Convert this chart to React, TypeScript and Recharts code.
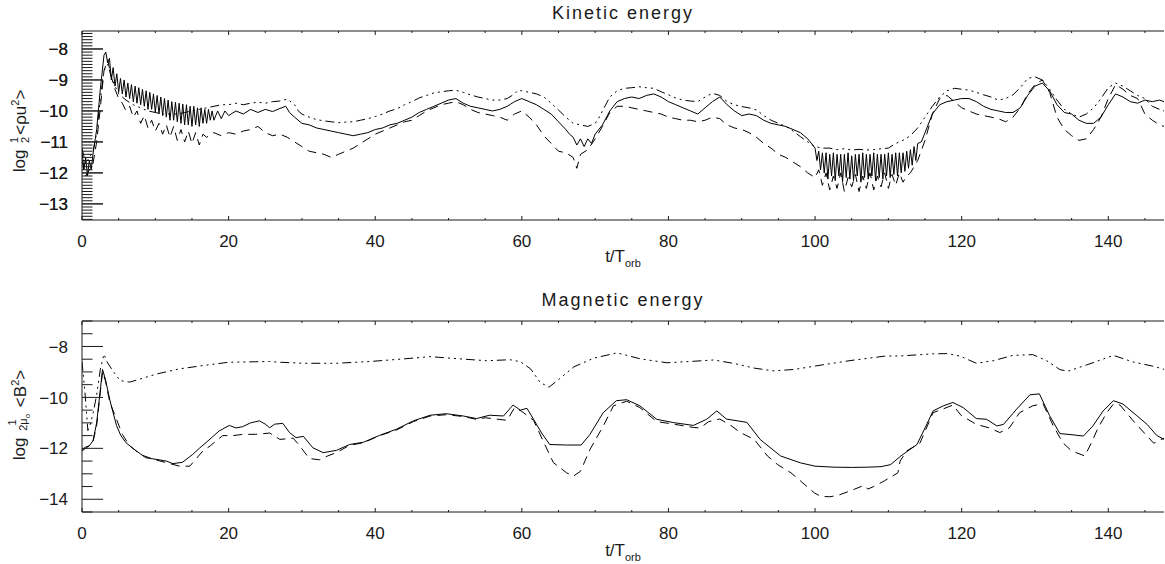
import React from "react";
import { Line, LineChart, XAxis, YAxis } from "recharts";

/* ---- data: [t/T_orb, log energy] ---- */

// kinetic energy, solid
const keSolid: [number, number][] = [
  [0, -11.3], [0.25, -11.9], [0.5, -11.5], [0.75, -12.1], [1, -11.6], [1.25, -11.9], [1.5, -11.4],
  [2, -10.6], [2.5, -9.3], [3, -8.2], [3.25, -8.1], [3.5, -8.45], [3.75, -8.3], [4, -9.0],
  [4.25, -8.6], [4.5, -9.2], [4.75, -8.8], [5, -9.4], [5.25, -8.95], [5.5, -9.45], [5.75, -9.0],
  [6, -9.55], [6.25, -9.1], [6.5, -9.6], [6.75, -9.15], [7, -9.7], [7.25, -9.2], [7.5, -9.75],
  [7.75, -9.25], [8, -9.8], [8.25, -9.3], [8.5, -9.85], [8.75, -9.35], [9, -9.95], [9.25, -9.4],
  [9.5, -9.95], [9.75, -9.45], [10, -10.05], [10.25, -9.5], [10.5, -10.1], [10.75, -9.55],
  [11, -10.15], [11.25, -9.6], [11.5, -10.2], [11.75, -9.65], [12, -10.3], [12.25, -9.7],
  [12.5, -10.3], [12.75, -9.72], [13, -10.35], [13.25, -9.75], [13.5, -10.4], [13.75, -9.78],
  [14, -10.45], [14.25, -9.8], [14.5, -10.45], [14.75, -9.85], [15, -10.5], [15.25, -9.85],
  [15.5, -10.45], [15.75, -9.9], [16, -10.5], [16.25, -9.9], [16.5, -10.4], [16.75, -9.95],
  [17, -10.4], [17.25, -9.95], [17.5, -10.3], [17.75, -10.0], [18, -10.3], [18.5, -10.0],
  [19, -10.25], [19.5, -10.0], [20, -10.15], [21, -10.0], [22, -10.1], [23, -9.95], [24, -10.05],
  [25, -9.95], [26, -10.02], [27, -9.92], [27.8, -9.85], [28.3, -10.05], [29, -10.2], [30, -10.4],
  [31, -10.45], [32, -10.55], [33, -10.6], [34, -10.65], [35, -10.7], [36, -10.75], [37, -10.8],
  [38, -10.75], [39, -10.7], [40, -10.6], [41, -10.55], [42, -10.45], [43, -10.4], [44, -10.3],
  [45, -10.2], [46, -10.05], [47, -9.95], [48, -9.85], [49, -9.75], [50, -9.65], [51, -9.6],
  [52, -9.75], [53, -9.85], [54, -9.9], [55, -9.95], [56, -10.0], [57, -9.95], [58, -9.85],
  [59, -9.7], [60, -9.6], [61, -9.7], [62, -9.8], [63, -9.95], [64, -10.1], [65, -10.35],
  [66, -10.6], [66.5, -10.75], [67, -10.85], [67.5, -11.1], [68, -10.9], [68.5, -11.15],
  [69, -10.9], [69.5, -11.05], [70, -10.75], [71, -10.45], [72, -10.0], [73, -9.7], [74, -9.6],
  [75, -9.55], [76, -9.6], [77, -9.5], [78, -9.45], [79, -9.55], [80, -9.7], [81, -9.8],
  [82, -9.9], [83, -10.0], [84, -10.1], [85, -9.9], [86, -9.7], [87, -9.55], [88, -9.8],
  [89, -10.0], [90, -10.15], [91, -10.1], [92, -10.15], [93, -10.3], [94, -10.4], [95, -10.45],
  [96, -10.5], [97, -10.6], [98, -10.7], [99, -10.9], [100, -11.2], [100.25, -11.6], [100.5, -11.3],
  [100.75, -11.9], [101, -11.35], [101.25, -12.0], [101.5, -11.35], [101.75, -12.2], [102, -11.4],
  [102.25, -12.1], [102.5, -11.35], [102.75, -12.25], [103, -11.4], [103.25, -12.1], [103.5, -11.4],
  [103.75, -12.3], [104, -11.4], [104.25, -12.15], [104.5, -11.35], [104.75, -12.2], [105, -11.45],
  [105.25, -12.25], [105.5, -11.4], [105.75, -12.1], [106, -11.4], [106.25, -12.3], [106.5, -11.35],
  [106.75, -12.15], [107, -11.4], [107.25, -12.2], [107.5, -11.4], [107.75, -12.1], [108, -11.35],
  [108.25, -12.25], [108.5, -11.4], [108.75, -12.15], [109, -11.4], [109.25, -12.2], [109.5, -11.4],
  [109.75, -12.1], [110, -11.35], [110.25, -12.15], [110.5, -11.4], [110.75, -12.05], [111, -11.35],
  [111.25, -12.1], [111.5, -11.35], [111.75, -12.0], [112, -11.35], [112.25, -11.95], [112.5, -11.3],
  [112.75, -11.85], [113, -11.25], [113.25, -11.75], [113.5, -11.15], [113.75, -11.6], [114, -11.05],
  [114.5, -11.0], [115, -10.7], [116, -10.1], [117, -9.8], [118, -9.7], [119, -9.65], [120, -9.6],
  [121, -9.6], [122, -9.7], [123, -9.85], [124, -9.95], [125, -10.0], [126, -10.05], [127, -10.05],
  [128, -9.9], [129, -9.5], [130, -9.2], [131, -9.1], [132, -9.35], [133, -9.8], [134, -10.05],
  [135, -10.1], [136, -10.3], [137, -10.4], [138, -10.4], [139, -10.2], [140, -9.8], [141, -9.45],
  [142, -9.55], [143, -9.7], [144, -9.75], [145, -9.65], [146, -9.7], [147, -9.65], [147.6, -9.7],
];

// kinetic energy, dashed
const keDashed: [number, number][] = [
  [0, -11.6], [0.5, -12.1], [1, -11.9], [1.5, -11.7], [2, -11.0], [2.5, -9.9], [3, -8.7], [3.5, -8.35],
  [4, -8.9], [4.5, -9.3], [5, -9.6], [5.5, -9.75], [6, -10.0], [6.5, -9.85], [7, -10.2], [7.5, -10.0],
  [8, -10.4], [8.5, -10.15], [9, -10.55], [9.5, -10.3], [10, -10.65], [10.5, -10.4], [11, -10.75],
  [11.5, -10.45], [12, -10.85], [12.5, -10.5], [13, -10.95], [13.5, -10.6], [14, -11.0], [14.5, -10.65],
  [15, -11.05], [15.5, -10.7], [16, -11.1], [16.5, -10.75], [17, -10.85], [18, -10.7], [19, -10.8],
  [20, -10.7], [21, -10.75], [22, -10.65], [23, -10.6], [24, -10.5], [25, -10.7], [26, -10.8],
  [27, -10.75], [28, -10.85], [29, -11.0], [30, -11.15], [31, -11.3], [32, -11.35], [33, -11.4],
  [34, -11.5], [35, -11.4], [36, -11.3], [37, -11.2], [38, -11.05], [39, -10.9], [40, -10.75],
  [41, -10.65], [42, -10.55], [43, -10.45], [44, -10.35], [45, -10.3], [46, -10.15], [47, -10.0],
  [48, -9.9], [49, -9.8], [50, -9.75], [51, -9.7], [52, -9.8], [53, -9.95], [54, -10.05], [55, -10.1],
  [56, -10.15], [57, -10.2], [58, -10.3], [59, -10.1], [60, -10.0], [61, -10.2], [62, -10.45],
  [63, -10.8], [64, -11.05], [65, -11.3], [66, -11.35], [67, -11.5], [67.5, -11.85], [68, -11.4],
  [69, -11.25], [70, -10.9], [71, -10.5], [72, -10.05], [73, -9.85], [74, -9.85], [75, -9.9],
  [76, -9.95], [77, -10.0], [78, -10.05], [79, -10.1], [80, -10.2], [81, -10.25], [82, -10.3],
  [83, -10.3], [84, -10.35], [85, -10.3], [86, -10.2], [87, -10.25], [88, -10.45], [89, -10.55],
  [90, -10.6], [91, -10.7], [92, -10.85], [93, -11.05], [94, -11.2], [95, -11.4], [96, -11.5],
  [97, -11.65], [98, -11.8], [99, -12.0], [100, -12.15], [100.5, -11.9], [101, -12.4], [101.5, -12.0],
  [102, -12.55], [102.5, -12.1], [103, -12.5], [103.5, -12.0], [104, -12.6], [104.5, -12.15],
  [105, -12.45], [105.5, -12.05], [106, -12.6], [106.5, -12.1], [107, -12.5], [107.5, -12.0],
  [108, -12.55], [108.5, -12.1], [109, -12.45], [109.5, -12.0], [110, -12.5], [110.5, -12.05],
  [111, -12.4], [111.5, -12.0], [112, -12.3], [112.5, -12.1], [113, -12.0], [114, -11.6], [115, -10.95],
  [116, -10.1], [117, -9.6], [118, -9.5], [119, -9.7], [120, -9.9], [121, -10.0], [122, -10.1],
  [123, -10.15], [124, -10.2], [125, -10.25], [126, -10.35], [127, -10.2], [128, -9.9], [129, -9.45],
  [130, -9.15], [131, -9.0], [132, -9.4], [133, -10.2], [134, -10.6], [135, -10.8], [136, -10.95],
  [137, -10.9], [138, -10.6], [139, -10.2], [140, -9.6], [141, -9.15], [142, -9.3], [143, -9.5],
  [144, -9.6], [145, -10.1], [146, -10.3], [147, -10.45], [147.6, -10.5],
];

// kinetic energy, dash-dot
const keDashDot: [number, number][] = [
  [0, -11.2], [0.5, -11.7], [1, -11.5], [1.5, -11.3], [2, -10.7], [2.5, -9.6], [3, -8.7], [3.5, -8.5],
  [4, -8.9], [4.5, -9.2], [5, -9.45], [6, -9.65], [7, -9.8], [8, -9.9], [9, -10.0], [10, -10.05],
  [11, -10.1], [12, -10.1], [13, -10.1], [14, -10.05], [15, -10.0], [16, -9.95], [17, -9.9],
  [18, -9.85], [19, -9.8], [20, -9.8], [21, -9.75], [22, -9.8], [23, -9.75], [24, -9.72], [25, -9.75],
  [26, -9.7], [27, -9.68], [28, -9.62], [29, -9.8], [29.5, -10.0], [30, -10.1], [31, -10.2],
  [32, -10.28], [33, -10.32], [34, -10.35], [35, -10.38], [36, -10.36], [37, -10.35], [38, -10.3],
  [39, -10.25], [40, -10.18], [41, -10.1], [42, -10.0], [43, -9.93], [44, -9.8], [45, -9.7],
  [46, -9.58], [47, -9.5], [48, -9.42], [49, -9.38], [50, -9.35], [51, -9.33], [52, -9.4],
  [53, -9.48], [54, -9.55], [55, -9.6], [56, -9.65], [57, -9.65], [58, -9.6], [59, -9.45],
  [59.5, -9.33], [60, -9.35], [61, -9.4], [62, -9.45], [63, -9.55], [64, -9.75], [65, -9.97],
  [66, -10.2], [67, -10.4], [68, -10.45], [69, -10.5], [70, -10.4], [70.5, -10.23], [71, -10.0],
  [72, -9.55], [73, -9.35], [74, -9.27], [75, -9.25], [76, -9.22], [77, -9.25], [78, -9.27],
  [79, -9.38], [80, -9.48], [81, -9.58], [82, -9.65], [83, -9.68], [84, -9.7], [85, -9.55],
  [86, -9.43], [87, -9.5], [88, -9.7], [89, -9.8], [90, -9.86], [91, -9.9], [92, -9.97],
  [93, -10.15], [94, -10.3], [95, -10.4], [96, -10.5], [97, -10.65], [98, -10.83], [99, -11.0],
  [100, -11.15], [101, -11.2], [102, -11.2], [103, -11.25], [104, -11.22], [105, -11.26],
  [106, -11.24], [107, -11.26], [108, -11.25], [109, -11.22], [110, -11.2], [111, -11.05],
  [112, -10.95], [113, -10.8], [114, -10.55], [115, -10.2], [116, -9.85], [117, -9.55], [118, -9.35],
  [119, -9.27], [120, -9.3], [121, -9.33], [122, -9.4], [123, -9.48], [124, -9.55], [125, -9.65],
  [126, -9.6], [127, -9.48], [128, -9.25], [129, -8.95], [130, -8.9], [131, -9.0], [132, -9.3],
  [133, -9.65], [134, -9.95], [135, -10.1], [136, -10.2], [137, -10.1], [138, -9.9], [139, -9.6],
  [140, -9.25], [141, -9.1], [142, -9.2], [143, -9.35], [144, -9.5], [145, -9.6], [146, -9.85],
  [147, -9.95], [147.6, -10.0],
];

// magnetic energy, solid
const mgSolid: [number, number][] = [
  [0, -12.05], [0.5, -11.95], [1, -11.9], [1.5, -11.7], [2, -11.0], [2.5, -9.7], [2.8, -8.9],
  [3.2, -9.3], [3.8, -10.1], [4.7, -11.1], [5.3, -11.5], [6, -11.78], [7.4, -12.1], [8.7, -12.37],
  [10.5, -12.45], [11.5, -12.5], [12.4, -12.6], [13.7, -12.55], [15.1, -12.24], [16, -12.0],
  [16.9, -11.78], [18, -11.5], [18.7, -11.32], [20.1, -11.1], [21, -11.2], [21.9, -11.15],
  [23, -11.0], [24.2, -10.92], [25, -11.05], [25.6, -11.19], [26.3, -11.05], [27.4, -11.02],
  [28.3, -11.38], [29.2, -11.58], [30.2, -11.53], [31.5, -11.98], [32.9, -12.17], [34.7, -12.08],
  [36.5, -11.85], [38.4, -11.76], [40.6, -11.49], [42.9, -11.25], [45.2, -10.92], [47.5, -10.7],
  [49.7, -10.64], [52, -10.73], [53.8, -10.83], [55.6, -10.7], [57.5, -10.73], [58.8, -10.3],
  [59.8, -10.5], [60.7, -10.43], [61.6, -10.86], [62.7, -11.4], [63.8, -11.85], [66.1, -11.87],
  [68.1, -11.87], [69.3, -11.45], [71.1, -10.6], [72.9, -10.13], [74.3, -10.09], [76.1, -10.33],
  [78.4, -10.86], [80.7, -10.99], [83.4, -11.1], [85.2, -10.86], [86.6, -10.53], [87.9, -10.85],
  [90.7, -10.98], [92.5, -11.65], [95.3, -12.3], [98, -12.57], [100, -12.7], [102.6, -12.74],
  [105, -12.75], [107.1, -12.74], [109, -12.72], [110.3, -12.64], [111.7, -12.3], [113.9, -11.85],
  [115, -11.2], [116.1, -10.53], [117.5, -10.33], [118.8, -10.2], [120.2, -10.4], [122, -10.83],
  [123.4, -10.86], [124.8, -11.12], [125.7, -11.06], [127.5, -10.46], [129.3, -9.9], [130.6, -9.86],
  [132, -10.72], [133.4, -11.42], [135.2, -11.47], [136.6, -11.52], [137.9, -11.12], [139.3, -10.53],
  [140.7, -10.13], [142, -10.26], [143.9, -10.72], [145.3, -11.06], [146.6, -11.49], [147.6, -11.65],
];

// magnetic energy, dashed
const mgDashed: [number, number][] = [
  [0, -12.1], [0.5, -12.0], [1, -11.9], [1.5, -11.75], [2, -11.1], [2.5, -9.8], [2.8, -9.0],
  [3.2, -9.35], [3.8, -10.2], [4.9, -11.0], [5.5, -11.45], [6.5, -11.9], [8, -12.25], [10, -12.45],
  [12, -12.6], [13.3, -12.7], [14.7, -12.7], [16.5, -12.1], [17.5, -11.9], [19.2, -11.5],
  [20.6, -11.5], [22, -11.45], [23.7, -11.45], [25.6, -11.4], [27, -11.65], [28.8, -11.6],
  [29.7, -11.9], [31, -12.4], [32.4, -12.45], [33.5, -12.3], [34.7, -12.17], [36.5, -11.88],
  [38.4, -11.78], [40.6, -11.5], [42.9, -11.28], [45.2, -10.95], [47.5, -10.73], [49.7, -10.68],
  [52, -10.75], [53.8, -10.86], [55, -10.8], [56.5, -10.85], [58, -10.9], [59, -10.4], [60, -10.55],
  [61.6, -10.9], [63, -11.77], [64.3, -12.56], [66.1, -12.96], [67, -13.1], [68, -12.9],
  [69.3, -12.04], [71.1, -11.13], [72.5, -10.33], [74.3, -10.15], [76.1, -10.4], [78.4, -10.95],
  [80.7, -11.05], [83.4, -11.18], [84.3, -11.2], [85.5, -10.95], [87, -10.85], [88.5, -11.1],
  [89.8, -11.38], [91.7, -11.65], [93.5, -12.3], [94.9, -12.64], [96.7, -12.96], [98.1, -13.3],
  [99.9, -13.75], [100.8, -13.89], [102, -13.9], [103.1, -13.85], [104.9, -13.66], [106.7, -13.45],
  [107.2, -13.6], [108, -13.5], [109.5, -13.27], [111.3, -12.96], [111.6, -12.5], [112.5, -12.1],
  [114.3, -11.8], [116.1, -10.6], [117.5, -10.45], [118.8, -10.3], [119.9, -10.7], [122, -11.06],
  [123.8, -11.2], [125.2, -11.38], [126.5, -11.2], [127.9, -10.6], [129.7, -10.33], [131.1, -10.25],
  [132.5, -11.12], [133.8, -11.78], [135, -12.1], [136.8, -12.3], [137.7, -11.78], [138.6, -11.2],
  [139.8, -10.6], [140.7, -10.26], [141.6, -10.3], [143.4, -10.92], [145.3, -11.52], [146.2, -11.8],
  [147.6, -11.6],
];

// magnetic energy, dash-dot-dot-dot
const mgDashDot: [number, number][] = [
  [0, -8.6], [0.4, -9.8], [0.8, -11.3], [1.2, -11.0], [1.6, -10.5], [2, -9.9], [2.5, -8.9], [3, -8.3],
  [3.4, -8.6], [4.3, -9.0], [5.2, -9.34], [6.5, -9.4], [7.9, -9.28], [10.2, -9.08], [13.3, -8.88],
  [16.5, -8.75], [20, -8.62], [23.7, -8.6], [25.6, -8.59], [27, -8.62], [30.2, -8.66], [34.7, -8.66],
  [39.3, -8.59], [43.8, -8.49], [47.5, -8.4], [50.7, -8.47], [55.2, -8.56], [58.4, -8.52],
  [59.8, -8.6], [61.2, -8.88], [62.5, -9.41], [63.7, -9.6], [65.1, -9.28], [67.1, -8.8],
  [69.8, -8.46], [73, -8.25], [76.2, -8.49], [79.8, -8.64], [83.5, -8.58], [86.2, -8.53],
  [89, -8.67], [91.7, -8.85], [94.4, -8.96], [97.2, -8.9], [100.4, -8.75], [104.9, -8.55],
  [109.5, -8.38], [111.7, -8.37], [116.1, -8.29], [118, -8.28], [119.8, -8.38], [122, -8.66],
  [124.3, -8.56], [127, -8.35], [129.7, -8.32], [131.6, -8.56], [133.4, -8.91], [134.5, -8.97],
  [137, -8.73], [140.7, -8.35], [143.4, -8.61], [146.2, -8.78], [147.6, -8.9],
];

/* ---- axes ---- */
const tDomain: [number, number] = [0, 147.6];
const tMajor = [0, 20, 40, 60, 80, 100, 120, 140];
const tMinor = [5, 10, 15, 25, 30, 35, 45, 50, 55, 65, 70, 75, 85, 90, 95, 105, 110, 115, 125, 130, 135, 145];

const keDomain: [number, number] = [-13.52, -7.42];
const keMajor = [-13, -12, -11, -10, -9, -8];
const keMinor = Array.from({ length: 61 }, (_, i) => Math.round((-13.5 + i * 0.1) * 10) / 10);

const mgDomain: [number, number] = [-14.5, -7];
const mgMajor = [-14, -12, -10, -8];
const mgMinor = [-14.5, -13.5, -13, -12.5, -11.5, -11, -10.5, -9.5, -9, -8.5, -7.5, -7];

const INK = "#1a1a1a";
const FONT = "'Liberation Sans', Arial, sans-serif";
const fmt = (v: number) => (v < 0 ? `\u2212${Math.abs(v)}` : `${v}`);
const isIn = (arr: number[], v: number) => arr.some((a) => Math.abs(a - v) < 1e-6);

const rows = (pts: [number, number][]) => pts.map(([t, v]) => ({ t, v }));

// IDL-style inward ticks; majors carry labels on the left/bottom sides only
const yTick = (majors: number[], side: "left" | "right") => (p: any) => {
  const v = p.payload.value;
  const len = isIn(majors, v) ? 21 : 10.5;
  const dir = side === "left" ? 1 : -1;
  return (
    <g>
      <line x1={p.x} x2={p.x + dir * len} y1={p.y} y2={p.y} stroke={INK} strokeWidth={1} />
      {side === "left" && isIn(majors, v) && (
        <text x={p.x - 14} y={p.y} dy="0.36em" textAnchor="end" fontSize={17} fill={INK} fontFamily={FONT}>
          {fmt(v)}
        </text>
      )}
    </g>
  );
};

const xTick = (side: "bottom" | "top") => (p: any) => {
  const v = p.payload.value;
  const major = isIn(tMajor, v);
  const len = major ? 4 : 2;
  const dir = side === "bottom" ? -1 : 1;
  return (
    <g>
      <line x1={p.x} x2={p.x} y1={p.y} y2={p.y + dir * len} stroke={INK} strokeWidth={1} />
      {side === "bottom" && major && (
        <text x={p.x} y={p.y + 27} textAnchor="middle" fontSize={17} fill={INK} fontFamily={FONT}>
          {v}
        </text>
      )}
    </g>
  );
};

function Panel({
  height,
  plotBottom,
  domain,
  majors,
  minors,
  series,
}: {
  height: number;
  plotBottom: number;
  domain: [number, number];
  majors: number[];
  minors: number[];
  series: { pts: [number, number][]; dash?: string }[];
}) {
  const yTicks = [...majors, ...minors].sort((a, b) => a - b);
  const xTicks = [...tMajor, ...tMinor].sort((a, b) => a - b);
  return (
    <LineChart width={1165} height={height} margin={{ top: 30, right: 1, left: 0, bottom: 0 }}>
      <XAxis
        xAxisId="b"
        dataKey="t"
        type="number"
        domain={tDomain}
        allowDataOverflow
        ticks={xTicks}
        interval={0}
        height={height - plotBottom}
        tickSize={0}
        tickMargin={0}
        tickLine={false}
        stroke={INK}
        tick={xTick("bottom")}
      />
      <XAxis
        xAxisId="t"
        orientation="top"
        dataKey="t"
        type="number"
        domain={tDomain}
        allowDataOverflow
        ticks={xTicks}
        interval={0}
        height={1}
        tickSize={0}
        tickMargin={0}
        tickLine={false}
        stroke={INK}
        tick={xTick("top")}
      />
      <YAxis
        yAxisId="l"
        type="number"
        domain={domain}
        allowDataOverflow
        ticks={yTicks}
        interval={0}
        width={82}
        tickSize={0}
        tickMargin={0}
        tickLine={false}
        stroke={INK}
        tick={yTick(majors, "left")}
      />
      <YAxis
        yAxisId="r"
        orientation="right"
        type="number"
        domain={domain}
        allowDataOverflow
        ticks={yTicks}
        interval={0}
        width={0}
        tickSize={0}
        tickMargin={0}
        tickLine={false}
        stroke={INK}
        tick={yTick(majors, "right")}
      />
      {series.map((s, i) => (
        <Line
          key={i}
          xAxisId="b"
          yAxisId="l"
          data={rows(s.pts)}
          dataKey="v"
          type="linear"
          stroke="#000"
          strokeWidth={1}
          strokeDasharray={s.dash}
          dot={false}
          activeDot={false}
          isAnimationActive={false}
        />
      ))}
    </LineChart>
  );
}

const txt: React.CSSProperties = {
  position: "absolute",
  fontFamily: FONT,
  fontSize: 18,
  color: INK,
  whiteSpace: "nowrap",
  letterSpacing: 2,
};

const frac: React.CSSProperties = {
  display: "inline-flex",
  flexDirection: "column",
  alignItems: "center",
  fontSize: 11,
  lineHeight: "11px",
  margin: "0 2px",
  letterSpacing: 0,
};

function TOrb({ top }: { top: number }) {
  return (
    <div style={{ ...txt, left: 623, top, transform: "translate(-50%, -50%)", fontSize: 17, letterSpacing: 0 }}>
      t/T<sub style={{ fontSize: 11 }}>orb</sub>
    </div>
  );
}

export default function App() {
  return (
    <div style={{ position: "absolute", left: 0, top: 0, width: 1165, height: 564, background: "#fff" }}>
      <div style={{ position: "absolute", left: 0, top: 0 }}>
        <Panel
          height={280}
          plotBottom={220}
          domain={keDomain}
          majors={keMajor}
          minors={keMinor}
          series={[
            { pts: keSolid },
            { pts: keDashed, dash: "9 6" },
            { pts: keDashDot, dash: "9 4 2 4 2 4 2 4" },
          ]}
        />
      </div>
      <div style={{ position: "absolute", left: 0, top: 290 }}>
        <Panel
          height={274}
          plotBottom={222}
          domain={mgDomain}
          majors={mgMajor}
          minors={mgMinor}
          series={[
            { pts: mgSolid },
            { pts: mgDashed, dash: "9 6" },
            { pts: mgDashDot, dash: "9 4 2 4 2 4 2 4" },
          ]}
        />
      </div>

      <div style={{ ...txt, left: 623, top: 13, transform: "translate(-50%, -50%)" }}>Kinetic energy</div>
      <div style={{ ...txt, left: 623, top: 300, transform: "translate(-50%, -50%)" }}>Magnetic energy</div>
      <TOrb top={258} />
      <TOrb top={552} />

      <div
        style={{
          ...txt,
          fontSize: 17,
          letterSpacing: 0,
          left: 20,
          top: 131,
          transform: "translate(-50%, -50%) rotate(-90deg)",
          display: "flex",
          alignItems: "center",
        }}
      >
        <span>log&nbsp;</span>
        <span style={frac}>
          <span>1</span>
          <span>2</span>
        </span>
        <span>
          &lt;ρu<sup style={{ fontSize: 11 }}>2</sup>&gt;
        </span>
      </div>
      <div
        style={{
          ...txt,
          fontSize: 17,
          letterSpacing: 0,
          left: 20,
          top: 415,
          transform: "translate(-50%, -50%) rotate(-90deg)",
          display: "flex",
          alignItems: "center",
        }}
      >
        <span>log&nbsp;</span>
        <span style={frac}>
          <span>1</span>
          <span>
            2μ<sub style={{ fontSize: 8 }}>o</sub>
          </span>
        </span>
        <span>
          &nbsp;&lt;B<sup style={{ fontSize: 11 }}>2</sup>&gt;
        </span>
      </div>
    </div>
  );
}
